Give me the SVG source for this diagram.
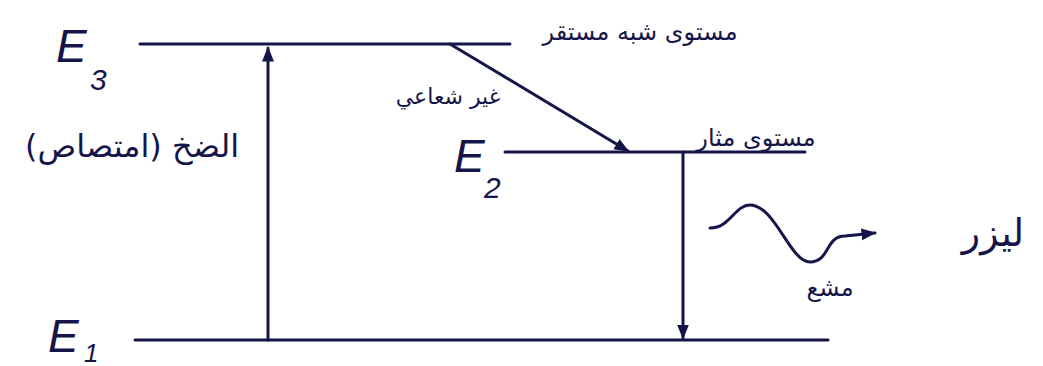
<svg xmlns="http://www.w3.org/2000/svg" width="1043" height="366" viewBox="0 0 1043 366">
<style>
.lvl{stroke:#15154a;stroke-width:3;fill:none;stroke-linecap:round}
.arr{stroke:#15154a;stroke-width:3;fill:none;stroke-linecap:round}
.e{font-family:"Liberation Sans",sans-serif;font-style:italic;fill:#15154a;font-size:46px}
.sub{font-family:"Liberation Sans",sans-serif;font-style:italic;fill:#15154a;font-size:30px}
.ar{font-family:"DejaVu Sans","Noto Sans",sans-serif;fill:#15154a;font-size:24px}
</style>
<defs>
<marker id="ah" viewBox="0 0 10 10" refX="9" refY="5" markerWidth="5" markerHeight="5" orient="auto-start-reverse" markerUnits="strokeWidth">
<path d="M0,1 L10,5 L0,9 Z" fill="#15154a"/>
</marker>
</defs>
<rect width="1043" height="366" fill="#ffffff"/>
<g id="E3">
<line class="lvl" x1="140" y1="44" x2="510" y2="44"/>
<text class="e" x="56" y="62">E</text>
<text class="sub" x="90" y="90">3</text>
<text class="ar" x="640" y="40" text-anchor="middle" direction="rtl">مستوى شبه مستقر</text>
</g>
<g id="E2">
<line class="lvl" x1="505" y1="152" x2="805" y2="152"/>
<text class="e" x="454" y="172">E</text>
<text class="sub" x="484" y="198">2</text>
<text class="ar" x="756" y="146" text-anchor="middle" direction="rtl">مستوى مثار</text>
</g>
<g id="E1">
<line class="lvl" x1="135" y1="340" x2="828" y2="340"/>
<text class="e" x="48" y="352">E</text>
<text class="sub" x="84" y="362" style="font-size:26px">1</text>
</g>
<g id="connectors">
<line class="arr" x1="268" y1="340" x2="268" y2="48" marker-end="url(#ah)"/>
<line class="arr" x1="450" y1="44" x2="628" y2="151" marker-end="url(#ah)"/>
<line class="arr" x1="683" y1="152" x2="683" y2="338" marker-end="url(#ah)"/>
<path class="arr" d="M710,228 C730,228 735,205 750,205 C775,205 790,262 810,262 C830,262 825,236 845,236 L875,233" marker-end="url(#ah)"/>
</g>
<g id="labels">
<text class="ar" x="132" y="157" text-anchor="middle" direction="rtl" style="font-size:32px">الضخ (امتصاص)</text>
<text class="ar" x="448" y="104" text-anchor="middle" direction="rtl" style="font-size:22px">غير شعاعي</text>
<text class="ar" x="993" y="246" text-anchor="middle" direction="rtl" style="font-size:38px">ليزر</text>
<text class="ar" x="830" y="296" text-anchor="middle" direction="rtl">مشع</text>
</g>
</svg>
